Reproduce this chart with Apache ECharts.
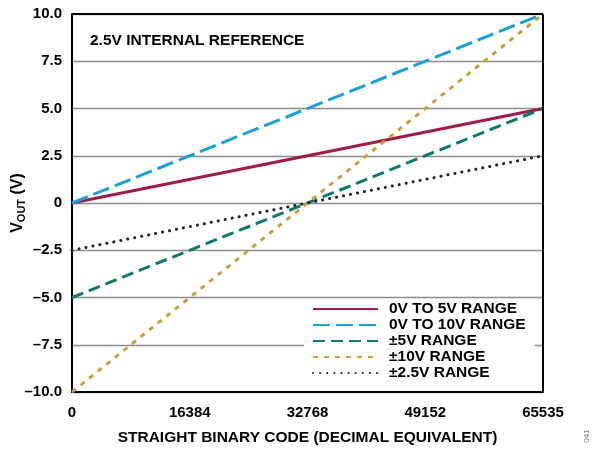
<!DOCTYPE html>
<html>
<head>
<meta charset="utf-8">
<script src="https://cdn.jsdelivr.net/npm/echarts@6/dist/echarts.min.js"></script>
<style>
  html, body { margin: 0; padding: 0; background: #fff; }
  #chart { width: 592px; height: 450px; }
</style>
</head>
<body>
<div id="chart"></div>
<script>
// codes (x) and output voltages (y) at the two ends of each range
var codes = [0, 65535];
var range0to5 = [0, 5];
var range0to10 = [0, 10];
var rangePm5 = [-5, 5];
var rangePm10 = [-10, 10];
var rangePm2p5 = [-2.5, 2.5];
var xTicks = [0, 16384, 32768, 49152, 65535];
var seriesNames = ["0V TO 5V RANGE", "0V TO 10V RANGE", "\u00b15V RANGE", "\u00b110V RANGE", "\u00b12.5V RANGE"];

var font = "Liberation Sans, Arial, sans-serif";

function pairs(ys) {
  return codes.map(function (c, i) { return [c, ys[i]]; });
}

function lineSeries(name, ys, color, type, cap) {
  return {
    name: name,
    type: "line",
    data: pairs(ys),
    symbol: "none",
    animation: false,
    lineStyle: { color: color, width: 3, type: type, cap: cap || "butt" },
    itemStyle: { color: color }
  };
}

var chart = echarts.init(document.getElementById("chart"));
chart.setOption({
  animation: false,
  grid: { left: 72, right: 49, top: 14, bottom: 58, outerBoundsMode: "none" },
  legend: {
    orient: "vertical",
    left: 304,
    top: 300,
    backgroundColor: "#fff",
    padding: [1, 9, 1, 8],
    itemWidth: 65,
    itemHeight: 16,
    itemGap: 0,
    itemStyle: { opacity: 0, borderWidth: 0 },
    textStyle: {
      fontFamily: font, fontWeight: "bold", fontSize: 15.5, lineHeight: 16, color: "#000",
      padding: [0, 0, 0, 6]
    },
    data: seriesNames
  },
  graphic: [
    {
      type: "text",
      left: 90,
      top: 33,
      style: { text: "2.5V INTERNAL REFERENCE", font: "bold 15.5px " + font, fill: "#000" }
    },
    {
      type: "text",
      x: 587,
      y: 436,
      rotation: Math.PI / 2,
      style: { text: "041", font: "8px " + font, fill: "#777", align: "center", verticalAlign: "middle" }
    }
  ],
  xAxis: {
    type: "value",
    min: 0,
    max: 65536,
    interval: 16384,
    name: "STRAIGHT BINARY CODE (DECIMAL EQUIVALENT)",
    nameLocation: "middle",
    nameGap: 38,
    nameMoveOverlap: false,
    nameTextStyle: { fontFamily: font, fontWeight: "bold", fontSize: 15.5, color: "#000" },
    axisLine: { onZero: false, lineStyle: { color: "#000", width: 2 } },
    axisTick: { show: false },
    splitLine: { show: false },
    axisLabel: {
      fontFamily: font, fontWeight: "bold", fontSize: 15, color: "#000", margin: 13,
      formatter: function (v) { return v === 65536 ? String(xTicks[4]) : String(v); }
    }
  },
  yAxis: {
    type: "value",
    min: -10,
    max: 10,
    interval: 2.5,
    name: "{v|V}{s|OUT}{v| (V)}",
    nameLocation: "middle",
    nameGap: 45,
    nameRotate: 90,
    nameMoveOverlap: false,
    nameTextStyle: {
      rich: {
        v: { fontFamily: font, fontWeight: "bold", fontSize: 16, color: "#000" },
        s: { fontFamily: font, fontWeight: "bold", fontSize: 11, color: "#000", verticalAlign: "bottom", padding: [7, 0, 0, 0] }
      }
    },
    axisLine: { onZero: false, lineStyle: { color: "#000", width: 2 } },
    axisTick: { show: false },
    splitLine: { lineStyle: { color: "#8c8c8c", width: 1.3 } },
    axisLabel: {
      fontFamily: font, fontWeight: "bold", fontSize: 15, color: "#000", margin: 10,
      formatter: function (v) {
        if (v === 0) return "0";
        return (v < 0 ? "\u2013" : "") + Math.abs(v).toFixed(1);
      }
    }
  },
  series: [
    lineSeries(seriesNames[0], range0to5, "#A01C48", "solid"),
    lineSeries(seriesNames[1], range0to10, "#1A9FD9", [17, 6]),
    lineSeries(seriesNames[2], rangePm5, "#0C7B6D", [12, 6]),
    lineSeries(seriesNames[3], rangePm10, "#C9A13B", [5, 6]),
    lineSeries(seriesNames[4], rangePm2p5, "#222", [0.1, 7], "round"),
    {
      type: "line",
      silent: true,
      symbol: "none",
      data: [],
      markLine: {
        silent: true,
        symbol: "none",
        label: { show: false },
        lineStyle: { color: "#000", width: 2, type: "solid" },
        data: [
          [{ coord: [0, 10] }, { coord: [65536, 10] }],
          [{ coord: [65536, -10] }, { coord: [65536, 10] }]
        ]
      }
    }
  ]
});
</script>
</body>
</html>
